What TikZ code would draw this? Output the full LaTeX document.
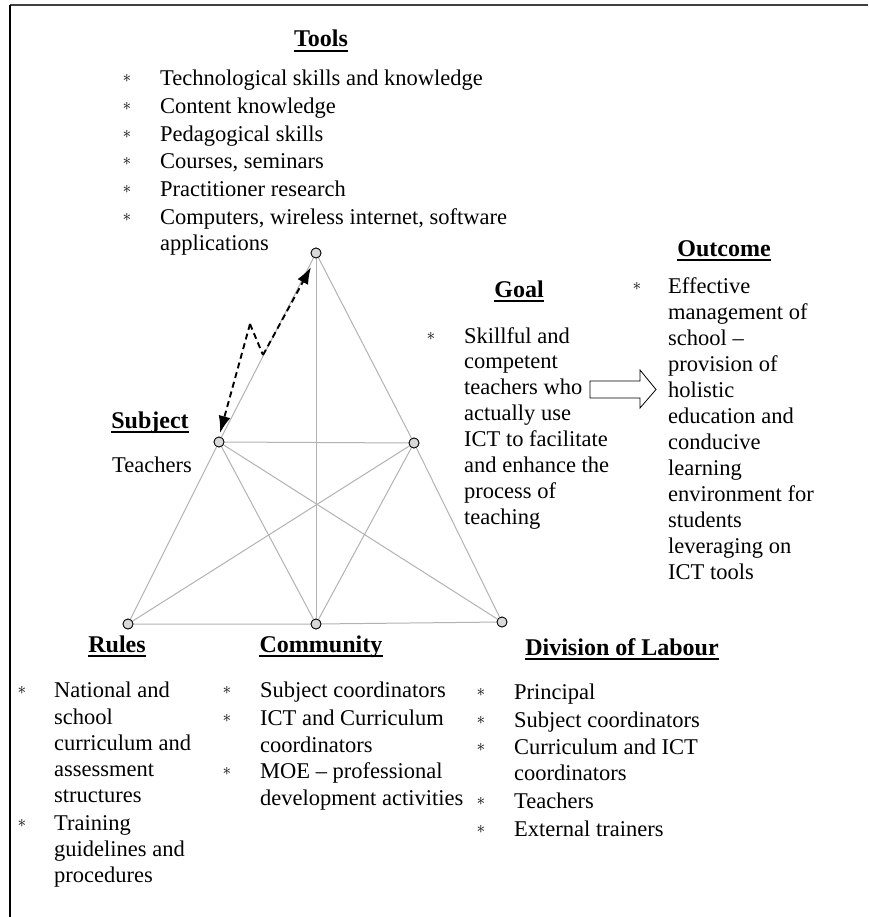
\documentclass[tikz,border=0pt]{standalone}
\usepackage{fontspec}
\setmainfont{Liberation Serif}
\usetikzlibrary{arrows.meta}
\begin{document}
\begin{tikzpicture}[x=1pt,y=-1pt,
  txt/.style={anchor=base west,inner sep=0pt,font=\fontsize{22.5}{26}\selectfont},
  bul/.style={anchor=base,inner sep=0pt,yshift=3pt,font=\fontsize{16}{16}\selectfont},
  heading/.style={anchor=base,inner sep=0pt,font=\fontsize{24}{28}\selectfont\bfseries},
  uline/.style={line width=2pt,black},
  spoke/.style={draw=black!30,line width=1pt},
  dot/.style={circle,draw=black,line width=0.8pt,fill=black!15,minimum size=10pt,inner sep=0pt},
  dash2/.style={line width=1.9pt,dash pattern=on 6pt off 4pt},
  zig/.style={dash2,-{Latex[length=17pt,width=12pt]}},
  hollow/.style={draw=black,line width=0.8pt,fill=white}]
\useasboundingbox (0,0) rectangle (868,917);

% frame
\draw[black!75,line width=2pt] (10,5) -- (868,5);
\draw[black,line width=1.4pt] (10,5) -- (10,917);

% activity triangles
\node[dot] (tool) at (316,253) {};
\node[dot] (subj) at (219,442) {};
\node[dot] (goal) at (414,443) {};
\node[dot] (rule) at (128,624) {};
\node[dot] (comm) at (316,624) {};
\node[dot] (div)  at (502,622) {};
\draw[spoke] (tool) -- (subj) -- (rule) -- (comm) -- (div) -- (goal) -- (tool);
\draw[spoke] (tool) -- (comm);
\draw[spoke] (subj) -- (goal);
\draw[spoke] (subj) -- (comm);
\draw[spoke] (subj) -- (div);
\draw[spoke] (goal) -- (rule);
\draw[spoke] (goal) -- (comm);
% dots again, over the spokes
\foreach \n in {tool,subj,goal,rule,comm,div}
  \node[dot] at (\n) {};

% contradiction between subject and tools
\coordinate (zA) at (250,324);
\coordinate (zB) at (263,355);
\coordinate (tipS) at (220,433);
\coordinate (tipT) at (311,267);
\draw[zig] (zA) -- (tipS);
\draw[zig] (zB) -- (tipT);
\draw[dash2] (zA) -- (zB);

% headings
\node[heading] (hTools) at (321,47) {Tools};
\node[heading] (hOut)   at (724,256) {Outcome};
\node[heading] (hGoal)  at (519,297) {Goal};
\node[heading] (hSubj)  at (150,428) {Subject};
\node[heading] (hRule)  at (117,652) {Rules};
\node[heading] (hComm)  at (321,652) {Community};
\node[heading] (hDiv)   at (622,655) {Division of Labour};
\foreach \h in {hTools,hOut,hGoal,hSubj,hRule,hComm,hDiv}
  \draw[uline] ([yshift=-4pt]\h.base west) -- ([yshift=-4pt]\h.base east);

% tools
\foreach \y/\t [count=\i] in {86/{Technological skills and knowledge},114/{Content knowledge},
  142/{Pedagogical skills},169/{Courses, seminars},197/{Practitioner research},
  225/{Computers, wireless internet, software}} {
  \node[bul] (tb\i) at (127,\y) {$\ast$};
  \node[txt] (tt\i) at (160,\y) {\t};
}
\node[txt] (tt7) at (160,251) {applications};

% subject
\node[txt] (sTxt) at (112,472) {Teachers};

% goal
\node[bul] (gb) at (431,343) {$\ast$};
\foreach \y/\t [count=\i] in {343/{Skillful and},368/{competent},394/{teachers who},
  420/{actually use},446/{ICT to facilitate},472/{and enhance the},498/{process of},524/{teaching}}
  \node[txt] (gt\i) at (464,\y) {\t};

% goal leads to outcome
\draw[hollow] (590,381) -- (640,381) -- (640,370) -- (656,389.5) -- (640,408)
  -- (640,398) -- (590,398) -- cycle;

% outcome
\node[bul] (ob) at (637,293) {$\ast$};
\foreach \y/\t [count=\i] in {293/{Effective},319/{management of},345/{school --},
  371/{provision of},397/{holistic},423/{education and},449/{conducive},475/{learning},
  501/{environment for},527/{students},553/{leveraging on},579/{ICT tools}}
  \node[txt] (ot\i) at (668,\y) {\t};

% rules
\node[bul] (rb1) at (22,697) {$\ast$};
\node[bul] (rb2) at (22,830) {$\ast$};
\foreach \y/\t [count=\i] in {697/{National and},724/{school},750/{curriculum and},
  776/{assessment},802/{structures},830/{Training},856/{guidelines and},882/{procedures}}
  \node[txt] (rt\i) at (54,\y) {\t};

% community
\foreach \y in {697,725,778}
  \node[bul] (cb\y) at (227,\y) {$\ast$};
\foreach \y/\t [count=\i] in {697/{Subject coordinators},725/{ICT and Curriculum},
  752/{coordinators},778/{MOE -- professional},805/{development activities}}
  \node[txt] (ct\i) at (260,\y) {\t};

% division of labour
\foreach \y in {699,727,754,808,836}
  \node[bul] (db\y) at (481,\y) {$\ast$};
\foreach \y/\t [count=\i] in {699/{Principal},727/{Subject coordinators},
  754/{Curriculum and ICT},780/{coordinators},808/{Teachers},836/{External trainers}}
  \node[txt] (dt\i) at (514,\y) {\t};
\end{tikzpicture}
\end{document}
